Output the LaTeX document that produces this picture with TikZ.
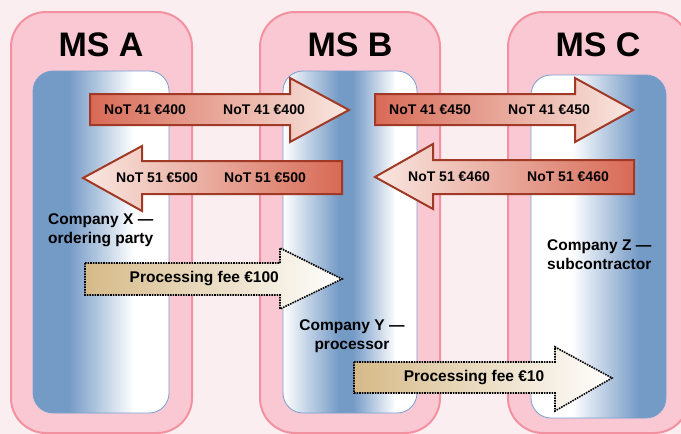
\documentclass[tikz,border=0pt]{standalone}
\usepackage{fontspec}
\setmainfont{Liberation Sans}
\usepackage{tikz}
\usetikzlibrary{positioning, arrows.meta}

\definecolor{bgpink}{RGB}{251,238,241}
\definecolor{msfill}{RGB}{250,200,210}
\definecolor{msborder}{RGB}{243,145,160}
\definecolor{laneblue}{RGB}{116,154,198}
\definecolor{laneborder}{RGB}{120,160,210}
\definecolor{reddark}{RGB}{216,106,86}
\definecolor{redlight}{RGB}{249,232,226}
\definecolor{redborder}{RGB}{160,58,38}
\definecolor{feetan}{RGB}{214,186,136}

\pgfdeclarehorizontalshading{laneA}{100bp}{color(0bp)=(laneblue); color(38bp)=(laneblue); color(62bp)=(white); color(100bp)=(white)}
\pgfdeclarehorizontalshading{laneB}{100bp}{color(0bp)=(white); color(25bp)=(white); color(46bp)=(laneblue); color(51bp)=(laneblue); color(67bp)=(white); color(100bp)=(white)}
\pgfdeclarehorizontalshading{laneC}{100bp}{color(0bp)=(white); color(40bp)=(white); color(65bp)=(laneblue); color(100bp)=(laneblue)}

\begin{document}
\begin{tikzpicture}[
    x=1pt, y=-1pt,
    ms/.style={draw=msborder, fill=msfill, line width=2pt, rounded corners=35pt},
    lane/.style={draw=laneborder, line width=0.8pt, rounded corners=20pt},
    title/.style={font=\fontsize{34}{40}\selectfont\bfseries, inner sep=0pt},
    redarrow/.style={draw=redborder, line width=2pt, line join=miter},
    feearrow/.style={draw=black, line width=1.6pt, densely dotted, left color=feetan, right color=white},
    nt/.style={font=\fontsize{14}{16}\selectfont\bfseries, inner sep=0pt},
    co/.style={font=\fontsize{15.5}{19}\selectfont\bfseries, inner sep=0pt}
]
    \fill[bgpink] (0,0) rectangle (681,434);
    \useasboundingbox (0,0) rectangle (681,434);

    % Member states
    \draw[ms] (11,12) rectangle (192,433);
    \draw[ms] (260,12) rectangle (440,433);
    \draw[ms] (508,12) rectangle (689,433);
    \node[title] (ms-a) at (101,45) {MS A};
    \node[title] (ms-b) at (350,45) {MS B};
    \node[title] (ms-c) at (598,45) {MS C};

    % Companies
    \draw[lane, shading=laneA] (33,71) rectangle (169,413);
    \draw[lane, shading=laneB] (283,71) rectangle (417,413);
    \draw[lane, shading=laneC] (531,75) rectangle (666,418);
    \node[co, anchor=west, align=left] (comp-x) at (48,230) {Company X —\\ordering party};
    \node[co, align=center] (comp-y) at (352,336.5) {Company Y —\\processor};
    \node[co, anchor=west, align=left] (comp-z) at (547,255) {Company Z —\\subcontractor};

    % NoT 41
    \draw[redarrow, left color=reddark, right color=redlight]
        (90,94) -- (290,94) -- (290,78) -- (349,110) -- (290,142) -- (290,125) -- (90,125) -- cycle;
    \draw[redarrow, left color=reddark, right color=redlight]
        (375,94) -- (575,94) -- (575,78) -- (633,110) -- (575,142) -- (575,125) -- (375,125) -- cycle;
    \node[nt] (n41a) at (145,110) {NoT 41 €400};
    \node[nt] (n41b) at (264,110) {NoT 41 €400};
    \node[nt] (n41c) at (430,110) {NoT 41 €450};
    \node[nt] (n41d) at (549,110) {NoT 41 €450};

    % NoT 51
    \draw[redarrow, left color=redlight, right color=reddark]
        (342,161) -- (142,161) -- (142,146) -- (83,178) -- (142,211) -- (142,194) -- (342,194) -- cycle;
    \draw[redarrow, left color=redlight, right color=reddark]
        (634,160) -- (433,160) -- (433,144) -- (375,177) -- (433,209) -- (433,194) -- (634,194) -- cycle;
    \node[nt] (n51a) at (157,178) {NoT 51 €500};
    \node[nt] (n51b) at (265,178) {NoT 51 €500};
    \node[nt] (n51c) at (449,177) {NoT 51 €460};
    \node[nt] (n51d) at (568,177) {NoT 51 €460};

    % Processing fees
    \draw[feearrow]
        (85,263) -- (280,263) -- (280,248) -- (342,279) -- (280,309) -- (280,295) -- (85,295) -- cycle;
    \draw[feearrow]
        (354,362) -- (555,362) -- (555,347) -- (612,378) -- (555,411) -- (555,393) -- (354,393) -- cycle;
    \node[co, anchor=east] (fee-a) at (279,279) {Processing fee €100};
    \node[co] (fee-b) at (474,378) {Processing fee €10};

\end{tikzpicture}
\end{document}
